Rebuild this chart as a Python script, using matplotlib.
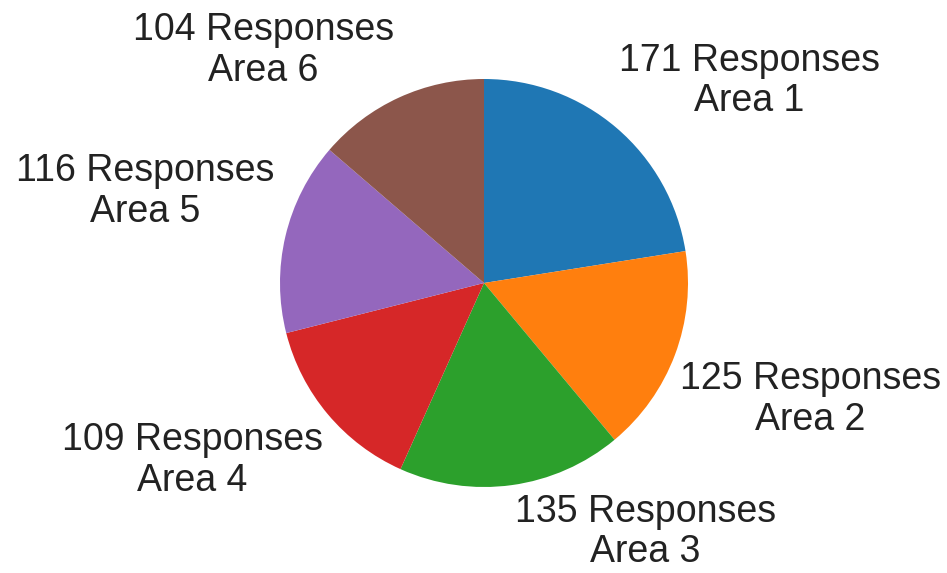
import matplotlib
matplotlib.use("Agg")
import matplotlib.pyplot as plt

plt.rcParams['font.family'] = ['Liberation Sans', 'DejaVu Sans']

areas = ["Area 1", "Area 2", "Area 3", "Area 4", "Area 5", "Area 6"]
responses = [171, 125, 135, 109, 116, 104]
colors = ['#1f77b4', '#ff7f0e', '#2ca02c', '#d62728', '#9467bd', '#8c564b']

# label centres, in units of the pie radius
label_pos = [(1.30, 0.99), (1.60, -0.57), (0.79, -1.22),
             (-1.43, -0.87), (-1.66, 0.45), (-1.08, 1.14)]

fig = plt.figure(figsize=(9.47, 5.73), dpi=100)
ax = fig.add_axes([0, 0, 1, 1])

wedges, _ = ax.pie(responses, colors=colors, startangle=90,
                   counterclock=False, radius=1, center=(0, 0))

for n, area, (x, y) in zip(responses, areas, label_pos):
    ax.text(x, y, f"{n} Responses\n{area}", ha='center', va='center',
            multialignment='center', fontsize=27, color='#222222',
            linespacing=1.17)

ax.set_xlim(-484 / 204, (947 - 484) / 204)
ax.set_ylim(-(573 - 283) / 204, 283 / 204)
ax.set_aspect('auto')
ax.axis('off')

fig.savefig("out.png", dpi=100)
